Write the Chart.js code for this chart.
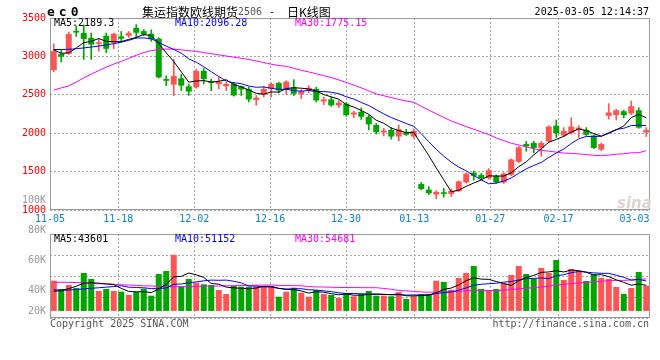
<!DOCTYPE html>
<html>
<head>
<meta charset="utf-8">
<script src="https://cdn.jsdelivr.net/npm/chart.js@4.4.1/dist/chart.umd.min.js"></script>
<style>
  body { margin: 0; background: #fff; }
  #wrap { position: relative; width: 660px; height: 360px; overflow: hidden; font-family: "DejaVu Sans Mono", monospace; font-size: 10px; }
  #price { position: absolute; left: 0; top: 0; }
  #volume { position: absolute; left: 0; top: 190px; }
  .txt { position: absolute; white-space: nowrap; line-height: 12px; }
  .cjk { font-family: "Noto Sans CJK SC", sans-serif; font-size: 12px; line-height: 14px; }
</style>
</head>
<body>
<div id="wrap">
  <canvas id="price" width="660" height="228"></canvas>
  <canvas id="volume" width="660" height="170"></canvas>
  <div class="txt" style="left:47px;top:4px;font-size:13px;font-weight:bold;letter-spacing:4px;line-height:16px">ec0</div>
  <div class="txt cjk" style="left:142px;top:5px">集运指数欧线期货</div>
  <div class="txt" style="left:238px;top:6px;color:#555">2506</div>
  <div class="txt" style="left:269px;top:6px">-</div>
  <div class="txt cjk" style="left:287px;top:5px">日K线图</div>
  <div class="txt" style="right:11px;top:6px">2025-03-05 12:14:37</div>
  <div class="txt" style="left:617px;top:194px;font:italic bold 15px 'DejaVu Sans';color:#ddd3d3">sina</div>
  <div class="txt" style="left:50px;top:318px;color:#555">Copyright 2025 SINA.COM</div>
  <div class="txt" style="right:11px;top:318px;color:#555">http://finance.sina.com.cn</div>
</div>
<script>
// trading days shown, oldest first
const dates = [
  '11-05','11-06','11-07','11-08','11-11','11-12','11-13','11-14','11-15','11-18',
  '11-19','11-20','11-21','11-22','11-25','11-26','11-27','11-28','11-29','12-02',
  '12-03','12-04','12-05','12-06','12-09','12-10','12-11','12-12','12-13','12-16',
  '12-17','12-18','12-19','12-20','12-23','12-24','12-25','12-26','12-27','12-30',
  '12-31','01-02','01-03','01-06','01-07','01-08','01-09','01-10','01-13','01-14',
  '01-15','01-16','01-17','01-20','01-21','01-22','01-23','01-24','01-27','02-05',
  '02-06','02-07','02-10','02-11','02-12','02-13','02-14','02-17','02-18','02-19',
  '02-20','02-21','02-24','02-25','02-26','02-27','02-28','03-03','03-04','03-05'
];
// days that carry a date label under the price panel
const tickIdx = [0, 9, 19, 29, 39, 48, 58, 67, 77];

const open = [
  2820, 3034, 3034, 3333, 3304, 3240, 3163, 3269, 3175, 3260,
  3269, 3372, 3329, 3295, 3231, 2705, 2632, 2714, 2611, 2599,
  2811, 2670, 2641, 2611, 2641, 2611, 2577, 2432, 2500, 2577,
  2654, 2568, 2598, 2513, 2556, 2577, 2414, 2440, 2363, 2385,
  2244, 2278, 2214, 2107, 2009, 2043, 1957, 2013, 1957, 1338,
  1265, 1201, 1231, 1210, 1244, 1359, 1487, 1457, 1415, 1445,
  1359, 1457, 1628, 1859, 1872, 1808, 1893, 2098, 1970, 2000,
  2043, 2043, 1970, 1786, 2227, 2235, 2286, 2257, 2299, 2009
];
const high = [
  3163, 3090, 3317, 3397, 3410, 3304, 3227, 3304, 3304, 3324,
  3324, 3414, 3350, 3346, 3244, 2747, 2961, 2769, 2641, 2833,
  2842, 2705, 2727, 2663, 2663, 2615, 2599, 2491, 2611, 2654,
  2663, 2684, 2697, 2568, 2620, 2599, 2470, 2470, 2427, 2397,
  2286, 2329, 2235, 2128, 2064, 2073, 2107, 2051, 2056, 1359,
  1304, 1252, 1282, 1274, 1380, 1485, 1509, 1475, 1539, 1457,
  1487, 1667, 1829, 1893, 1893, 1893, 2098, 2171, 2073, 2201,
  2098, 2073, 1979, 1872, 2385, 2312, 2299, 2419, 2333, 2073
];
const low = [
  2799, 2927, 3026, 3260, 2961, 2961, 3068, 3047, 3099, 3183,
  3247, 3235, 3270, 3196, 2718, 2619, 2491, 2555, 2491, 2586,
  2641, 2555, 2577, 2555, 2483, 2491, 2406, 2363, 2470, 2470,
  2526, 2504, 2491, 2449, 2526, 2406, 2372, 2350, 2333, 2222,
  2201, 2180, 2043, 1987, 1966, 1923, 1902, 1970, 1936, 1265,
  1201, 1146, 1167, 1175, 1240, 1350, 1389, 1402, 1402, 1346,
  1346, 1445, 1616, 1765, 1744, 1701, 1880, 1945, 1957, 1987,
  1945, 1970, 1799, 1774, 2184, 2171, 2201, 2244, 2064, 1957
];
const close = [
  3068, 2996, 3291, 3311, 3227, 3154, 3183, 3099, 3295, 3231,
  3304, 3308, 3286, 3222, 2727, 2683, 2747, 2619, 2542, 2811,
  2705, 2654, 2670, 2641, 2491, 2568, 2440, 2461, 2577, 2641,
  2556, 2671, 2513, 2547, 2590, 2427, 2440, 2363, 2397, 2235,
  2269, 2214, 2115, 2013, 2034, 1957, 2051, 1979, 2030, 1274,
  1218, 1235, 1210, 1252, 1372, 1475, 1445, 1415, 1517, 1359,
  1475, 1658, 1816, 1829, 1808, 1872, 2086, 2000, 2030, 2086,
  2073, 1979, 1808, 1859, 2269, 2299, 2235, 2351, 2073, 2043
];
const ma5 = [
  3085, 3040, 3045, 3110, 3179, 3196, 3233, 3195, 3192, 3192,
  3222, 3247, 3285, 3270, 3169, 3045, 2933, 2800, 2664, 2680,
  2685, 2666, 2676, 2696, 2632, 2605, 2562, 2520, 2507, 2537,
  2535, 2581, 2592, 2586, 2575, 2550, 2503, 2473, 2443, 2372,
  2341, 2296, 2246, 2169, 2129, 2067, 2034, 2007, 2010, 1858,
  1710, 1547, 1393, 1238, 1257, 1309, 1351, 1392, 1445, 1442,
  1442, 1485, 1565, 1627, 1717, 1797, 1882, 1919, 1959, 2015,
  2055, 2034, 1995, 1961, 1998, 2043, 2094, 2203, 2245, 2200
];
const ma10 = [
  3090, 3090, 3092, 3100, 3110, 3122, 3135, 3150, 3165, 3186,
  3209, 3240, 3240, 3231, 3181, 3134, 3090, 3042, 2967, 2925,
  2865, 2800, 2738, 2680, 2656, 2645, 2614, 2598, 2602, 2585,
  2570, 2572, 2556, 2547, 2556, 2542, 2542, 2533, 2515, 2474,
  2445, 2400, 2360, 2306, 2251, 2204, 2165, 2126, 2090, 1994,
  1889, 1791, 1700, 1624, 1558, 1510, 1449, 1393, 1341, 1350,
  1376, 1418, 1478, 1536, 1580, 1619, 1684, 1742, 1793, 1866,
  1926, 1958, 1957, 1960, 2006, 2049, 2064, 2099, 2103, 2099
];
const ma30 = [
  2560, 2590, 2615, 2665, 2720, 2770, 2815, 2860, 2900, 2935,
  2975, 3015, 3050, 3075, 3090, 3095, 3095, 3085, 3075, 3065,
  3050, 3035, 3020, 3005, 2990, 2975, 2960, 2940, 2920, 2898,
  2881, 2871, 2845, 2819, 2798, 2774, 2749, 2724, 2694, 2661,
  2627, 2590, 2551, 2511, 2488, 2464, 2440, 2419, 2402, 2351,
  2301, 2254, 2205, 2159, 2122, 2085, 2052, 2017, 1982, 1939,
  1903, 1869, 1846, 1822, 1796, 1778, 1766, 1754, 1741, 1737,
  1730, 1722, 1712, 1707, 1715, 1726, 1732, 1745, 1746, 1772
];

const volume = [
  51500, 37400, 44200, 39100, 64600, 54400, 34000, 37400, 34000, 32800,
  27200, 32300, 37900, 26000, 62900, 68000, 95700, 42000, 54400, 48100,
  45400, 44200, 35700, 28900, 42500, 41300, 41300, 41300, 42500, 42500,
  24300, 32800, 39600, 31100, 24300, 35700, 28900, 27200, 22100, 30600,
  25000, 28900, 34000, 26000, 26000, 25000, 31800, 20400, 25000, 28900,
  28900, 51500, 49300, 36200, 56100, 64600, 76500, 37400, 34500, 37400,
  47100, 61200, 76500, 62900, 54900, 73100, 64600, 86700, 52700, 71400,
  67500, 51000, 62900, 56100, 54400, 40800, 28900, 39100, 66300, 43000
];
const volMa5 = [
  33500, 34500, 38000, 42000, 47400, 47900, 47300, 45900, 44900, 38500,
  33100, 32700, 32800, 31200, 37300, 45400, 58100, 58900, 64600, 61600,
  57100, 46800, 45600, 40500, 39300, 38500, 37900, 39100, 41800, 41800,
  38400, 36700, 36300, 34100, 30400, 32700, 31900, 29400, 27600, 28900,
  26800, 26800, 28100, 28900, 28000, 28000, 28600, 25800, 25600, 26200,
  27000, 30900, 36700, 39000, 44400, 51500, 56500, 54200, 53800, 50100,
  46600, 43500, 51300, 57000, 60500, 65700, 66400, 68400, 66400, 69700,
  68600, 65900, 61100, 61800, 58400, 53000, 48600, 43900, 45900, 43600
];
const volMa10 = [
  36000, 35500, 35500, 36500, 37500, 38500, 39500, 40500, 41500, 42900,
  40500, 40000, 39400, 38100, 37900, 39300, 45400, 45900, 47900, 49500,
  51300, 52500, 52200, 52500, 50500, 47800, 42400, 42300, 41100, 40600,
  38500, 37300, 37700, 37900, 36100, 35500, 34300, 32900, 30900, 29700,
  29700, 29300, 28800, 28300, 28400, 27400, 27700, 27000, 27300, 27100,
  27500, 29800, 31300, 32300, 35300, 39300, 43700, 45400, 46400, 47200,
  49100, 50000, 52800, 55400, 55300, 56200, 55000, 59900, 61700, 65100,
  67200, 66100, 64800, 64100, 64000, 60800, 57200, 52500, 53800, 51000
];
const volMa30 = [
  48800, 48800, 48600, 48400, 48000, 46800, 46400, 46200, 45500, 44500,
  44200, 43500, 42800, 42500, 41800, 41500, 41300, 41300, 41500, 41800,
  42000, 42300, 42500, 42800, 43000, 43300, 43600, 43900, 44100, 44300,
  43400, 43300, 43100, 42800, 41500, 40900, 40700, 40400, 40000, 39900,
  39800, 39700, 39600, 39600, 38300, 36900, 34800, 34100, 33100, 32400,
  31900, 32100, 32600, 32800, 33300, 34100, 35200, 35100, 34800, 34700,
  35400, 36400, 37600, 38700, 39700, 40900, 42100, 44100, 45100, 46500,
  47900, 48600, 49600, 50600, 51600, 52100, 52000, 52600, 54000, 54500
];

// legend strings as printed on the original
const priceMaText = ['MA5:2189.3', 'MA10:2096.28', 'MA30:1775.15'];
const volMaText = ['MA5:43601', 'MA10:51152', 'MA30:54681'];
// sina's own (odd) volume labels, placed on their own scale
const volTagValues = [20000, 40000, 60000, 80000, 100000];
const volTagText = ['20K', '40K', '60K', '80K', '100K'];

const RED = '#fd5555', GREEN = '#00a500', GRID = '#a8a8a8', FRAME = '#999999';
const MA_COLORS = ['#000000', '#0000ff', '#ff00ff'];
const MONO = { family: '"DejaVu Sans Mono", monospace', size: 10 };
// sina spaces its date grid a touch wider than the bars
const GRID_STRETCH = 1.012;

const idx = dates.map((d, i) => i);
const colors = idx.map(i => close[i] >= open[i] ? RED : GREEN);

const framePlugin = {
  id: 'frame',
  afterDatasetsDraw(chart) {
    const {ctx, chartArea: a} = chart;
    ctx.save();
    ctx.strokeStyle = FRAME;
    ctx.lineWidth = 1;
    ctx.strokeRect(Math.round(a.left) + 0.5, Math.round(a.top) + 0.5,
      Math.round(a.width) - 1, Math.round(a.height) - 1);
    ctx.restore();
  }
};

const maLegendPlugin = {
  id: 'maLegend',
  afterDraw(chart, args, opts) {
    const {ctx, chartArea: a} = chart;
    const xs = [4, 125, 245];
    ctx.save();
    ctx.font = '10px "DejaVu Sans Mono", monospace';
    ctx.textBaseline = 'middle';
    opts.texts.forEach((t, k) => {
      ctx.fillStyle = MA_COLORS[k];
      ctx.fillText(t, a.left + xs[k], a.top + 5);
    });
    ctx.restore();
  }
};

const volTagPlugin = {
  id: 'volTags',
  afterDraw(chart) {
    const tag = chart.scales.tag;
    if (!tag) return;
    const {ctx, chartArea: a} = chart;
    ctx.save();
    ctx.font = '10px "DejaVu Sans Mono", monospace';
    ctx.fillStyle = '#999999';
    ctx.textAlign = 'right';
    ctx.textBaseline = 'middle';
    volTagValues.forEach((v, k) => {
      const y = Math.min(tag.getPixelForValue(v), a.bottom - 7);
      ctx.fillText(volTagText[k], a.left - 4, y);
    });
    ctx.restore();
  }
};

function dateAxis(showLabels) {
  return {
    type: 'linear',
    min: -0.5,
    max: dates.length - 0.5,
    offset: false,
    afterBuildTicks: s => { s.ticks = tickIdx.map(i => ({ value: i * GRID_STRETCH - 0.5 })); },
    afterFit: showLabels ? undefined : s => { s.height = 0; },
    grid: {
      offset: false,
      color: c => (c.index === 0 || c.index === tickIdx.length - 1) ? 'transparent' : GRID,
      drawTicks: false
    },
    border: { display: false, dash: [2, 2] },
    ticks: {
      display: showLabels,
      autoSkip: false,
      maxRotation: 0,
      padding: 3,
      color: '#1080d0',
      font: MONO,
      callback: (v, k) => dates[tickIdx[k]]
    }
  };
}

function lineSet(values, color) {
  return {
    type: 'line',
    data: idx.map(i => ({ x: i, y: values[i] })),
    borderColor: color,
    borderWidth: 1,
    pointRadius: 0,
    tension: 0,
    order: 0
  };
}

const common = {
  responsive: false,
  animation: false,
  devicePixelRatio: 1,
  events: [],
};

new Chart(document.getElementById('price'), {
  type: 'bar',
  data: {
    datasets: [
      lineSet(ma5, MA_COLORS[0]),
      lineSet(ma10, MA_COLORS[1]),
      lineSet(ma30, MA_COLORS[2]),
      {
        data: idx.map(i => ({ x: i, y: [open[i], close[i]] })),
        backgroundColor: colors,
        barPercentage: 0.8,
        categoryPercentage: 1,
        minBarLength: 1,
        grouped: false,
        order: 1
      },
      {
        data: idx.map(i => ({ x: i, y: [low[i], high[i]] })),
        backgroundColor: colors,
        barThickness: 1,
        grouped: false,
        order: 2
      }
    ]
  },
  options: {
    ...common,
    layout: { padding: { top: 18, right: 10, left: 0, bottom: 0 } },
    plugins: { legend: { display: false }, tooltip: { enabled: false }, maLegend: { texts: priceMaText } },
    scales: {
      x: dateAxis(true),
      y: {
        min: 1000,
        max: 3500,
        afterFit: s => { s.width = 50; },
        grid: { color: GRID, drawTicks: false },
        border: { display: false, dash: [2, 2] },
        ticks: { stepSize: 500, color: '#ff0000', font: MONO, padding: 4, callback: v => String(v) }
      }
    }
  },
  plugins: [framePlugin, maLegendPlugin]
});

new Chart(document.getElementById('volume'), {
  type: 'bar',
  data: {
    datasets: [
      lineSet(volMa5, MA_COLORS[0]),
      lineSet(volMa10, MA_COLORS[1]),
      lineSet(volMa30, MA_COLORS[2]),
      {
        data: idx.map(i => ({ x: i, y: volume[i] })),
        backgroundColor: colors,
        barPercentage: 0.8,
        categoryPercentage: 1,
        order: 1
      }
    ]
  },
  options: {
    ...common,
    layout: { padding: { top: 44, right: 10, left: 50, bottom: 42 } },
    plugins: { legend: { display: false }, tooltip: { enabled: false }, maLegend: { texts: volMaText } },
    scales: {
      x: dateAxis(false),
      y: {
        min: -12000,
        max: 131000,
        afterFit: s => { s.width = 0; },
        grid: { color: GRID, drawTicks: false },
        border: { display: false, dash: [2, 2] },
        ticks: { display: false, count: 5 }
      },
      tag: { type: 'linear', axis: 'y', position: 'left', display: false, min: 21950, max: 77500 }
    }
  },
  plugins: [framePlugin, maLegendPlugin, volTagPlugin]
});
</script>
</body>
</html>
